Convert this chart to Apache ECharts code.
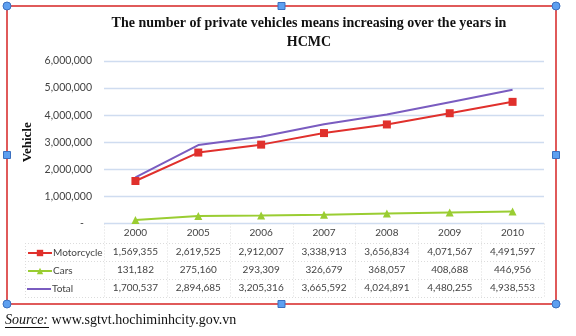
<!DOCTYPE html>
<html><head><meta charset="utf-8">
<script src="https://cdn.jsdelivr.net/npm/echarts@6/dist/echarts.min.js"></script>
<style>html,body{margin:0;padding:0;background:#fff}#c{width:576px;height:336px}</style>
</head><body><div id="c"></div>
<script>
var years = ['2000','2005','2006','2007','2008','2009','2010'];
var motorcycle = [1569355, 2619525, 2912007, 3338913, 3656834, 4071567, 4491597];
var cars = [131182, 275160, 293309, 326679, 368057, 408688, 446956];
var total = [1700537, 2894685, 3205316, 3665592, 4024891, 4480255, 4938553];
var seriesNames = ['Motorcycle', 'Cars', 'Total'];
var yTicks = [0, 1000000, 2000000, 3000000, 4000000, 5000000, 6000000];

var W = 576, H = 336;
var gL = 104, gR = 544, gT = 61, gB = 223.5;
var rowY = [233, 252, 270, 288];
var colors = ['#e0302c', '#9acd32', '#7a5cc0'];
function fmt(v){ return v.toLocaleString('en-US'); }
var tableFont = {fontFamily: 'Lato, "Liberation Sans", sans-serif', fontSize: 10, color: '#444'};

var chart = echarts.init(document.getElementById('c'), null, {renderer: 'canvas'});

var rowsData = [motorcycle, cars, total];
var xAxes = [{
  type: 'category', data: years, gridIndex: 0, boundaryGap: true,
  axisLine: {show: false}, axisTick: {show: false}, splitLine: {show: false},
  axisLabel: Object.assign({margin: 4, interval: 0}, tableFont)
}];
rowsData.forEach(function(arr, r){
  xAxes.push({
    type: 'category', data: years, gridIndex: 0, position: 'bottom',
    offset: rowY[r+1] - rowY[0],
    axisLine: {show: false}, axisTick: {show: false}, splitLine: {show: false},
    axisLabel: Object.assign({margin: 4, interval: 0, hideOverlap: false, formatter: function(v, i){ return fmt(arr[i]); }}, tableFont)
  });
});

var series = [
  {name: seriesNames[0], type: 'line', data: motorcycle, symbol: 'rect', symbolSize: 8,
   itemStyle: {color: colors[0]}, lineStyle: {width: 2, color: colors[0]}},
  {name: seriesNames[1], type: 'line', data: cars, symbol: 'triangle', symbolSize: 8,
   itemStyle: {color: colors[1]}, lineStyle: {width: 2, color: colors[1]}},
  {name: seriesNames[2], type: 'line', data: total, symbol: 'none', showSymbol: false,
   itemStyle: {color: colors[2]}, lineStyle: {width: 2, color: colors[2]}}
];
series.forEach(function(s){ s.animation = false; s.silent = true; });

var legends = seriesNames.map(function(n, i){
  var isTotal = (i === 2);
  return {data: [isTotal ? {name: n, icon: 'rect'} : n], left: 27, top: rowY[i+1] - (isTotal ? 4 : 4),
    itemWidth: 24, itemHeight: isTotal ? 2 : 8, itemGap: 0,
    textStyle: Object.assign({padding: [0,0,0,-4]}, tableFont), padding: 0, selectedMode: false};
});

// table lines
var graphics = [];
var colW = (gR - gL) / years.length;
var lineStyle = {stroke: '#dcdcdc', lineWidth: 1, lineDash: [1, 2]};
for (var k = 0; k <= years.length; k++) {
  var x = Math.round(gL + k * colW) + 0.5;
  graphics.push({type: 'line', shape: {x1: x, y1: gB, x2: x, y2: 297}, style: lineStyle, silent: true});
}
graphics.push({type: 'line', shape: {x1: 25.5, y1: 243, x2: 25.5, y2: 297}, style: lineStyle, silent: true});
[243, 261, 279, 297].forEach(function(y){
  graphics.push({type: 'line', shape: {x1: 25, y1: y + 0.5, x2: gR, y2: y + 0.5}, style: lineStyle, silent: true});
});

// frame
var fx1 = 7, fy1 = 6, fx2 = 556, fy2 = 304;
graphics.push({type: 'rect', shape: {x: fx1, y: fy1, width: fx2 - fx1, height: fy2 - fy1},
  style: {fill: 'none', stroke: '#e05a5a', lineWidth: 2}, silent: true, z: 50});
[[fx1, fy1], [fx2, fy1], [fx1, fy2], [fx2, fy2]].forEach(function(p){
  graphics.push({type: 'circle', shape: {cx: p[0], cy: p[1], r: 4},
    style: {fill: '#5d9ff0', stroke: '#3b6fbf', lineWidth: 1}, silent: true, z: 60});
});
[[(fx1 + fx2) / 2, fy1], [(fx1 + fx2) / 2, fy2], [fx1, (fy1 + fy2) / 2], [fx2, (fy1 + fy2) / 2]].forEach(function(p){
  graphics.push({type: 'rect', shape: {x: p[0] - 3.5, y: p[1] - 3.5, width: 7, height: 7},
    style: {fill: '#5d9ff0', stroke: '#3b6fbf', lineWidth: 1}, silent: true, z: 60});
});
// source
graphics.push({type: 'text', left: 5, top: 313, silent: true, style: {
  text: '{a|Source:}{b| www.sgtvt.hochiminhcity.gov.vn}',
  rich: {
    a: {fontFamily: '"Liberation Serif", serif', fontStyle: 'italic', fontSize: 14, fill: '#111'},
    b: {fontFamily: '"Liberation Serif", serif', fontSize: 14, fill: '#111'}
  }
}});
graphics.push({type: 'line', shape: {x1: 5, y1: 327.5, x2: 49, y2: 327.5}, style: {stroke: '#111', lineWidth: 1}, silent: true});

chart.setOption({
  animation: false,
  backgroundColor: '#fff',
  title: {
    text: 'The number of private vehicles means increasing over the years in\nHCMC',
    left: 304, top: 9, textAlign: 'center',
    textStyle: {fontFamily: '"Liberation Serif", serif', fontWeight: 'bold', fontSize: 14, color: '#111', lineHeight: 19}
  },
  legend: legends,
  grid: {left: gL, right: W - gR, top: gT, bottom: H - gB, containLabel: false},
  xAxis: xAxes,
  yAxis: {
    type: 'value', min: yTicks[0], max: yTicks[yTicks.length - 1], interval: yTicks[1] - yTicks[0],
    name: 'Vehicle', nameLocation: 'middle', nameRotate: 90, nameGap: 66,
    nameTextStyle: {fontFamily: '"Liberation Serif", serif', fontWeight: 'bold', fontSize: 13, color: '#111'},
    axisLine: {show: false}, axisTick: {show: false},
    axisLabel: Object.assign({margin: 12, formatter: function(v){ return v === 0 ? '-   ' : fmt(v); }}, tableFont, {fontSize: 10.5}),
    splitLine: {lineStyle: {color: '#cfdcf0', width: 1.3}}
  },
  series: series,
  graphic: graphics
});
</script></body></html>
